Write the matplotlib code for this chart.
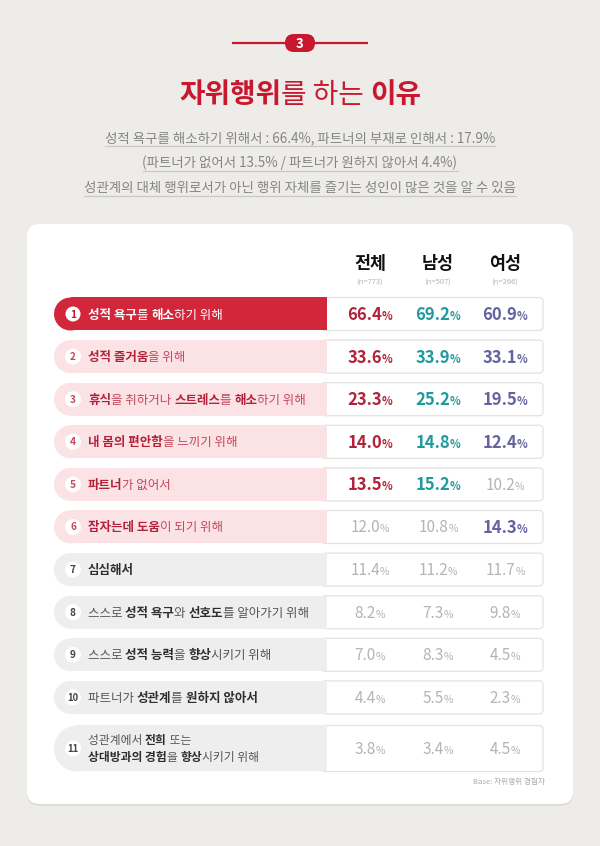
import matplotlib
matplotlib.use("Agg")
import matplotlib.pyplot as plt
from matplotlib.font_manager import FontProperties
from matplotlib.patches import FancyBboxPatch, Rectangle, Circle

FAM = ['Noto Sans CJK KR', 'DejaVu Sans']
plt.rcParams['font.family'] = FAM

# ---------------- data ----------------
badge = "3"
title_runs = [("자위행위", 1), ("를 하는 ", 0), ("이유", 1)]
subtitle_lines = [
    "성적 욕구를 해소하기 위해서 : 66.4%, 파트너의 부재로 인해서 : 17.9%",
    "(파트너가 없어서 13.5% / 파트너가 원하지 않아서 4.4%)",
    "성관계의 대체 행위로서가 아닌 행위 자체를 즐기는 성인이 많은 것을 알 수 있음",
]
columns = ["전체", "남성", "여성"]
col_n = ["(n=773)", "(n=507)", "(n=266)"]

reasons = [
    [[("성적 욕구", 1), ("를 ", 0), ("해소", 1), ("하기 위해", 0)]],
    [[("성적 즐거움", 1), ("을 위해", 0)]],
    [[("휴식", 1), ("을 취하거나 ", 0), ("스트레스", 1), ("를 ", 0), ("해소", 1), ("하기 위해", 0)]],
    [[("내 몸의 편안함", 1), ("을 느끼기 위해", 0)]],
    [[("파트너", 1), ("가 없어서", 0)]],
    [[("잠자는데 도움", 1), ("이 되기 위해", 0)]],
    [[("심심해서", 1)]],
    [[("스스로 ", 0), ("성적 욕구", 1), ("와 ", 0), ("선호도", 1), ("를 알아가기 위해", 0)]],
    [[("스스로 ", 0), ("성적 능력", 1), ("을 ", 0), ("향상", 1), ("시키기 위해", 0)]],
    [[("파트너가 ", 0), ("성관계", 1), ("를 ", 0), ("원하지 않아서", 1)]],
    [[("성관계에서 ", 0), ("전희", 1), (" 또는", 0)],
     [("상대방과의 경험", 1), ("을 ", 0), ("향상", 1), ("시키기 위해", 0)]],
]
total = [66.4, 33.6, 23.3, 14.0, 13.5, 12.0, 11.4, 8.2, 7.0, 4.4, 3.8]
male = [69.2, 33.9, 25.2, 14.8, 15.2, 10.8, 11.2, 7.3, 8.3, 5.5, 3.4]
female = [60.9, 33.1, 19.5, 12.4, 10.2, 14.3, 11.7, 9.8, 4.5, 2.3, 4.5]
hl_total = [1, 1, 1, 1, 1, 0, 0, 0, 0, 0, 0]
hl_male = [1, 1, 1, 1, 1, 0, 0, 0, 0, 0, 0]
hl_female = [1, 1, 1, 1, 0, 1, 0, 0, 0, 0, 0]
tier = ["top", "pink", "pink", "pink", "pink", "pink", "gray", "gray", "gray", "gray", "gray"]
base_note = "Base: 자위행위 경험자"

# ---------------- style ----------------
BG = "#edece9"
RED = "#c8182f"
BAND = {"top": "#d2263a", "pink": "#fbe2e4", "gray": "#efeeee"}
TXT_B = {"top": "#ffffff", "pink": "#b3213a", "gray": "#2e2e2e"}
TXT_R = {"top": "#ffffff", "pink": "#c4485c", "gray": "#555555"}
NUM_C = {"top": "#c8182f", "pink": "#c4485c", "gray": "#444444"}
COL_C = ["#b0233a", "#229a9c", "#64639f"]
GRAY_V = "#b4b4b4"

fig = plt.figure(figsize=(6, 8.46), dpi=100, facecolor=BG)
ax = fig.add_axes([0, 0, 1, 1])
ax.set_xlim(0, 600)
ax.set_ylim(846, 0)
ax.axis("off")
renderer = fig.canvas.get_renderer()


def fp(size, bold):
    return FontProperties(family=FAM, size=size, weight="bold" if bold else "normal")


def twidth(s, size, bold):
    p = fp(size, bold)
    w1, _, _ = renderer.get_text_width_height_descent("|" + s + "|", p, ismath=False)
    w0, _, _ = renderer.get_text_width_height_descent("||", p, ismath=False)
    return w1 - w0


def draw_runs(x, yc, runs, ha="left", zorder=5):
    """runs: list of (text, size, bold, color); yc: visual center"""
    ws = [twidth(s, sz, b) for s, sz, b, c in runs]
    tot = sum(ws)
    if ha == "center":
        x0 = x - tot / 2
    elif ha == "right":
        x0 = x - tot
    else:
        x0 = x
    big = max(sz for s, sz, b, c in runs)
    base = yc + 0.36 * big * 100 / 72
    for (s, sz, b, c), w in zip(runs, ws):
        ax.text(x0, base, s, fontsize=sz, fontweight="bold" if b else "normal",
                color=c, ha="left", va="baseline", zorder=zorder, family=FAM)
        x0 += w
    return tot


# ---------------- header ----------------
ax.plot([232, 368], [43, 43], color=RED, lw=1.6, zorder=2, solid_capstyle="butt")
ax.add_patch(FancyBboxPatch((285, 34), 30, 18, boxstyle="round,pad=0,rounding_size=9",
                            fc=RED, ec="none", zorder=3))
ax.text(300, 43.5, badge, fontsize=9.5, fontweight="bold", color="white",
        ha="center", va="center", zorder=4)

draw_runs(300, 93, [(s, 20, b, RED) for s, b in title_runs], ha="center")

sub_y = [137, 162, 187]
for line, yy in zip(subtitle_lines, sub_y):
    w = draw_runs(300, yy, [(line, 9.7, 0, "#858585")], ha="center")
    ax.plot([300 - w / 2, 300 + w / 2], [yy + 9, yy + 9], color="#c9c9c9", lw=0.9, zorder=2)

# ---------------- card ----------------
ax.add_patch(FancyBboxPatch((27, 226), 546, 580, boxstyle="round,pad=0,rounding_size=13",
                            fc="#dddcd9", ec="none", zorder=1))
ax.add_patch(FancyBboxPatch((27, 224), 546, 580, boxstyle="round,pad=0,rounding_size=13",
                            fc="white", ec="none", zorder=1.5))

col_x = [370, 438, 505]
for cx, name, n in zip(col_x, columns, col_n):
    draw_runs(cx, 263, [(name, 12.5, 1, "#111111")], ha="center")
    ax.text(cx, 283, n, fontsize=5.5, color="#b5b5b5", ha="center", va="center")

# ---------------- rows ----------------
band_l, split, box_r = 54, 327, 543
y0, step, h = 314, 42.6, 33
for i in range(len(reasons)):
    t = tier[i]
    if i < len(reasons) - 1:
        yc, hh = y0 + i * step, h
    else:
        yc, hh = y0 + i * step + 2 + 6.5, 46
    top = yc - hh / 2
    r = hh / 2
    # value box
    ax.add_patch(FancyBboxPatch((split - 6, top), box_r - split + 6, hh,
                                boxstyle="round,pad=0,rounding_size=4",
                                fc="white", ec="#e2e2e2", lw=0.9, zorder=2))
    # label band
    ax.add_patch(Rectangle((band_l + r, top), split - band_l - r, hh, fc=BAND[t], ec="none", zorder=3))
    ax.add_patch(Circle((band_l + r, yc), r, fc=BAND[t], ec="none", zorder=3))
    # number circle
    cr = 7.5 if t == "top" else 8
    ax.add_patch(Circle((73, yc), cr, fc="white", ec="none", zorder=4))
    ax.text(73, yc + 0.5, str(i + 1), fontsize=7.3 if i < 9 else 6.8, fontweight="bold",
            color=NUM_C[t], ha="center", va="center", zorder=5)
    # label
    lines = reasons[i]
    lsz = 9 if len(lines) == 1 else 8.5
    n = len(lines)
    for k, ln in enumerate(lines):
        ly = yc + (k - (n - 1) / 2) * 17
        draw_runs(88, ly, [(s, lsz, b, TXT_B[t] if b else TXT_R[t]) for s, b in ln])
    # values
    for j, (vals, hls) in enumerate([(total, hl_total), (male, hl_male), (female, hl_female)]):
        v = vals[i]
        if hls[i]:
            runs = [(f"{v:.1f}", 12, 1, COL_C[j]), ("%", 8, 1, COL_C[j])]
        else:
            runs = [(f"{v:.1f}", 11, 0, GRAY_V), ("%", 7.5, 0, GRAY_V)]
        draw_runs(col_x[j], yc, runs, ha="center")

ax.text(545, 782, base_note, fontsize=5.5, color="#aaaaaa", ha="right", va="center")

fig.savefig("out.png", dpi=100, facecolor=BG)
